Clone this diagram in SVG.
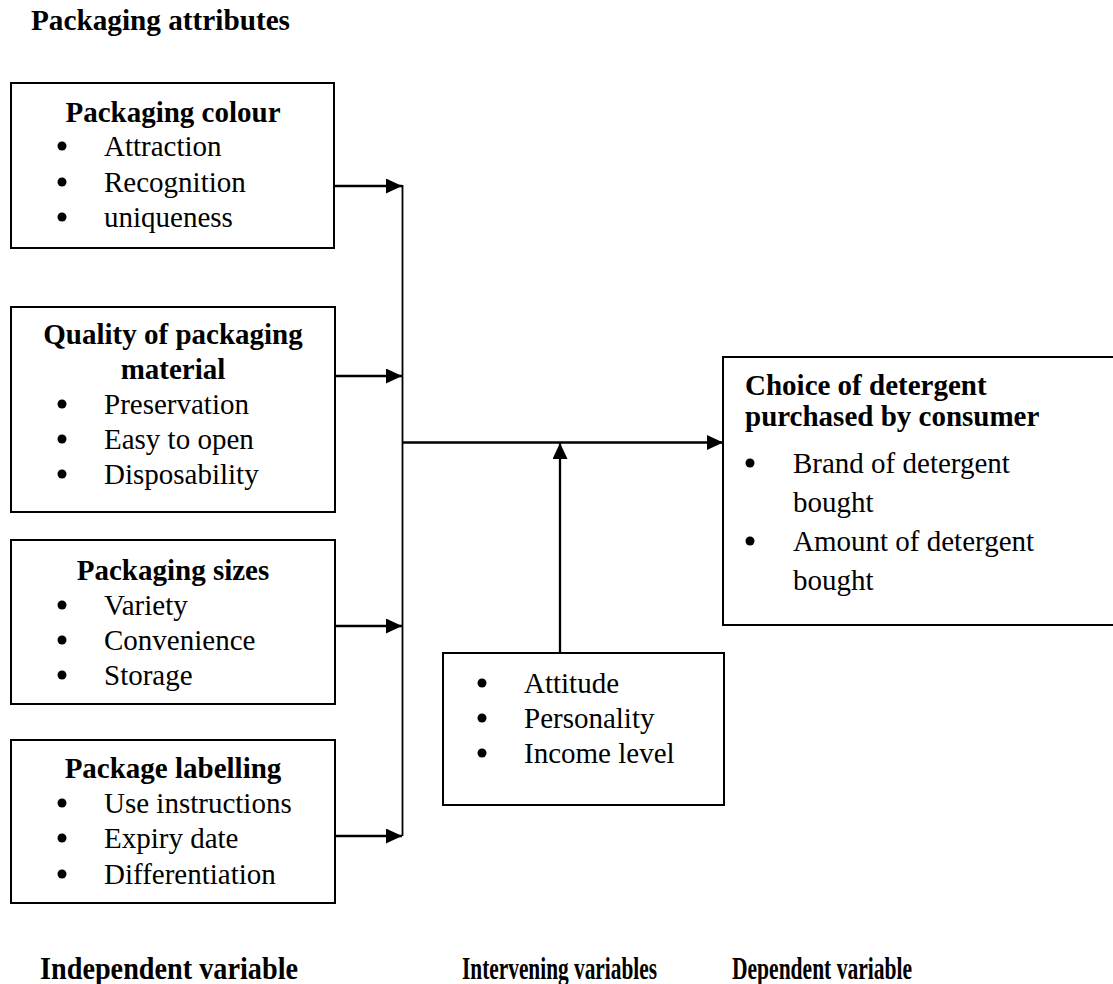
<svg xmlns="http://www.w3.org/2000/svg" width="1113" height="984" viewBox="0 0 1113 984">
<defs>
<style>
.box{fill:#fff;stroke:#000;stroke-width:2}
.t{font-family:"Liberation Serif","Times New Roman",serif;font-size:29px;fill:#000}
.b{font-weight:bold}
.m{text-anchor:middle}
.lab{font-family:"Liberation Serif","Times New Roman",serif;font-size:32px;font-weight:bold;fill:#000}
.ln{stroke:#000;stroke-width:2.3;fill:none}
.col{stroke:#000;stroke-width:1.8;fill:none}
.dot{fill:#000}
</style>
<marker id="ah" markerUnits="userSpaceOnUse" markerWidth="16" markerHeight="15" refX="16" refY="7.5" orient="auto">
<path d="M0,0 L16,7.5 L0,15 z" fill="#000"/>
</marker>
</defs>
<rect width="1113" height="984" fill="#fff"/>
<text class="t b" x="31" y="30" textLength="259" lengthAdjust="spacingAndGlyphs">Packaging attributes</text>

<g id="colour">
<rect class="box" x="11" y="83" width="323" height="165"/>
<text class="t b m" x="173" y="122">Packaging colour</text>
<circle class="dot" cx="62" cy="146" r="4.5"/><text class="t" x="104" y="156">Attraction</text>
<circle class="dot" cx="62" cy="182" r="4.5"/><text class="t" x="104" y="192">Recognition</text>
<circle class="dot" cx="62" cy="217" r="4.5"/><text class="t" x="104" y="227">uniqueness</text>
</g>

<g id="quality">
<rect class="box" x="11" y="307" width="324" height="205"/>
<text class="t b m" x="173" y="344">Quality of packaging</text>
<text class="t b m" x="173" y="379">material</text>
<circle class="dot" cx="62" cy="404" r="4.5"/><text class="t" x="104" y="414">Preservation</text>
<circle class="dot" cx="62" cy="439" r="4.5"/><text class="t" x="104" y="449">Easy to open</text>
<circle class="dot" cx="62" cy="474" r="4.5"/><text class="t" x="104" y="484">Disposability</text>
</g>

<g id="sizes">
<rect class="box" x="11" y="540" width="324" height="164"/>
<text class="t b m" x="173" y="580">Packaging sizes</text>
<circle class="dot" cx="62" cy="605" r="4.5"/><text class="t" x="104" y="615">Variety</text>
<circle class="dot" cx="62" cy="640" r="4.5"/><text class="t" x="104" y="650">Convenience</text>
<circle class="dot" cx="62" cy="675" r="4.5"/><text class="t" x="104" y="685">Storage</text>
</g>

<g id="labelling">
<rect class="box" x="11" y="740" width="324" height="163"/>
<text class="t b m" x="173" y="778">Package labelling</text>
<circle class="dot" cx="62" cy="803" r="4.5"/><text class="t" x="104" y="813">Use instructions</text>
<circle class="dot" cx="62" cy="838" r="4.5"/><text class="t" x="104" y="848">Expiry date</text>
<circle class="dot" cx="62" cy="874" r="4.5"/><text class="t" x="104" y="884">Differentiation</text>
</g>

<g id="intervening">
<rect class="box" x="443" y="653" width="281" height="152"/>
<circle class="dot" cx="482" cy="683" r="4.5"/><text class="t" x="524" y="693">Attitude</text>
<circle class="dot" cx="482" cy="718" r="4.5"/><text class="t" x="524" y="728">Personality</text>
<circle class="dot" cx="482" cy="753" r="4.5"/><text class="t" x="524" y="763">Income level</text>
</g>

<g id="choice">
<rect class="box" x="723" y="357" width="400" height="268"/>
<text class="t b" x="745" y="395">Choice of detergent</text>
<text class="t b" x="745" y="426">purchased by consumer</text>
<circle class="dot" cx="750" cy="463" r="4.5"/><text class="t" x="793" y="473">Brand of detergent</text>
<text class="t" x="793" y="512">bought</text>
<circle class="dot" cx="750" cy="541" r="4.5"/><text class="t" x="793" y="551">Amount of detergent</text>
<text class="t" x="793" y="590">bought</text>
</g>

<g id="connectors">
<line class="col" x1="402.5" y1="185" x2="402.5" y2="836"/>
<line class="ln" x1="334" y1="186" x2="402" y2="186" marker-end="url(#ah)"/>
<line class="ln" x1="335" y1="376" x2="402" y2="376" marker-end="url(#ah)"/>
<line class="ln" x1="335" y1="626" x2="402" y2="626" marker-end="url(#ah)"/>
<line class="ln" x1="335" y1="836" x2="402" y2="836" marker-end="url(#ah)"/>
<line class="ln" x1="402" y1="442.5" x2="723" y2="442.5" marker-end="url(#ah)"/>
<line class="ln" x1="560" y1="653" x2="560" y2="443" marker-end="url(#ah)"/>
</g>

<text class="lab" x="40" y="979" textLength="258" lengthAdjust="spacingAndGlyphs">Independent variable</text>
<text class="lab" x="462" y="979" textLength="195" lengthAdjust="spacingAndGlyphs">Intervening variables</text>
<text class="lab" x="732" y="979" textLength="180" lengthAdjust="spacingAndGlyphs">Dependent variable</text>
</svg>
